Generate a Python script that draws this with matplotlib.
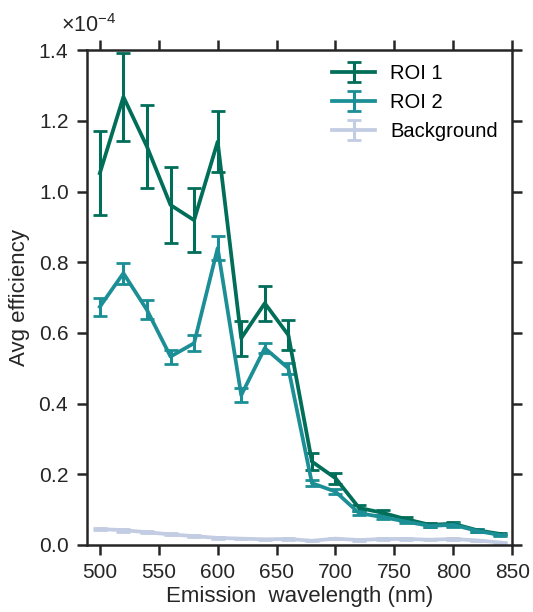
import numpy as np
import matplotlib
matplotlib.use("Agg")
import matplotlib.pyplot as plt
from matplotlib.ticker import ScalarFormatter

wavelength = [500, 520, 540, 560, 580, 600, 620, 640, 660, 680, 700, 720, 740, 760, 780, 800, 820, 840]
roi1 = [1.052, 1.268, 1.127, 0.962, 0.919, 1.141, 0.585, 0.684, 0.594, 0.236, 0.189, 0.105, 0.091, 0.073, 0.057, 0.060, 0.042, 0.031]
roi1_err = [0.118, 0.125, 0.117, 0.107, 0.090, 0.087, 0.050, 0.050, 0.043, 0.023, 0.016, 0.008, 0.007, 0.006, 0.005, 0.005, 0.004, 0.003]
roi2 = [0.674, 0.769, 0.665, 0.533, 0.571, 0.840, 0.424, 0.557, 0.500, 0.175, 0.151, 0.090, 0.079, 0.066, 0.054, 0.057, 0.040, 0.028]
roi2_err = [0.025, 0.030, 0.027, 0.020, 0.022, 0.034, 0.020, 0.015, 0.015, 0.008, 0.008, 0.006, 0.005, 0.005, 0.004, 0.005, 0.004, 0.003]
bg = [0.045, 0.042, 0.036, 0.030, 0.025, 0.020, 0.018, 0.016, 0.017, 0.012, 0.018, 0.014, 0.017, 0.017, 0.015, 0.017, 0.013, 0.007]
bg_err = [0.004, 0.004, 0.003, 0.003, 0.003, 0.002, 0.002, 0.002, 0.002, 0.002, 0.002, 0.002, 0.002, 0.002, 0.002, 0.002, 0.002, 0.002]
scale = 1e-4

plt.rcParams['font.family'] = ['Liberation Sans', 'DejaVu Sans']
plt.rcParams['mathtext.fontset'] = 'custom'
plt.rcParams['mathtext.rm'] = 'Liberation Sans'
plt.rcParams['mathtext.it'] = 'Liberation Sans'
plt.rcParams['font.size'] = 15

txt = '#262626'
fig = plt.figure(figsize=(5.33, 6.12), dpi=100)
ax = fig.add_axes([0.163, 0.1095, 0.798, 0.8085])

series = [
    ("ROI 1", roi1, roi1_err, "#006E58"),
    ("ROI 2", roi2, roi2_err, "#1C8F96"),
    ("Background", bg, bg_err, "#C2CCE2"),
]
for label, vals, errs, color in series:
    y = np.array(vals) * scale
    e = np.array(errs) * scale
    ax.errorbar(wavelength, y, yerr=e, color=color, lw=2.7, capsize=5,
                capthick=2, elinewidth=2.2, label=label)

ax.set_xlim(489, 848)
ax.set_ylim(0, 1.4e-4)
ax.set_xticks([500, 550, 600, 650, 700, 750, 800, 850])
ax.set_yticks(np.arange(0, 1.41, 0.2) * 1e-4)
fmt = ScalarFormatter(useMathText=True)
fmt.set_powerlimits((-3, 3))
ax.yaxis.set_major_formatter(fmt)
ax.yaxis.get_offset_text().set_visible(False)
ax.text(-0.062, 1.026, r'$\times\mathregular{10^{-4}}$', transform=ax.transAxes,
        fontsize=15.5, color=txt, ha='left', va='bottom')

ax.tick_params(direction='out', length=7, width=1.8, colors=txt,
               top=True, right=True, labelsize=15, pad=6)
for sp in ax.spines.values():
    sp.set_linewidth(1.8)
    sp.set_color(txt)

ax.set_xlabel("Emission  wavelength (nm)", fontsize=16, color=txt, labelpad=3)
ax.set_ylabel("Avg efficiency", fontsize=16, color=txt, labelpad=6)

ax.legend(loc='upper right', frameon=False, fontsize=14.5, handlelength=2.15,
          borderaxespad=0.3, labelspacing=0.5, handletextpad=0.75)

fig.savefig("out.png", dpi=100)
